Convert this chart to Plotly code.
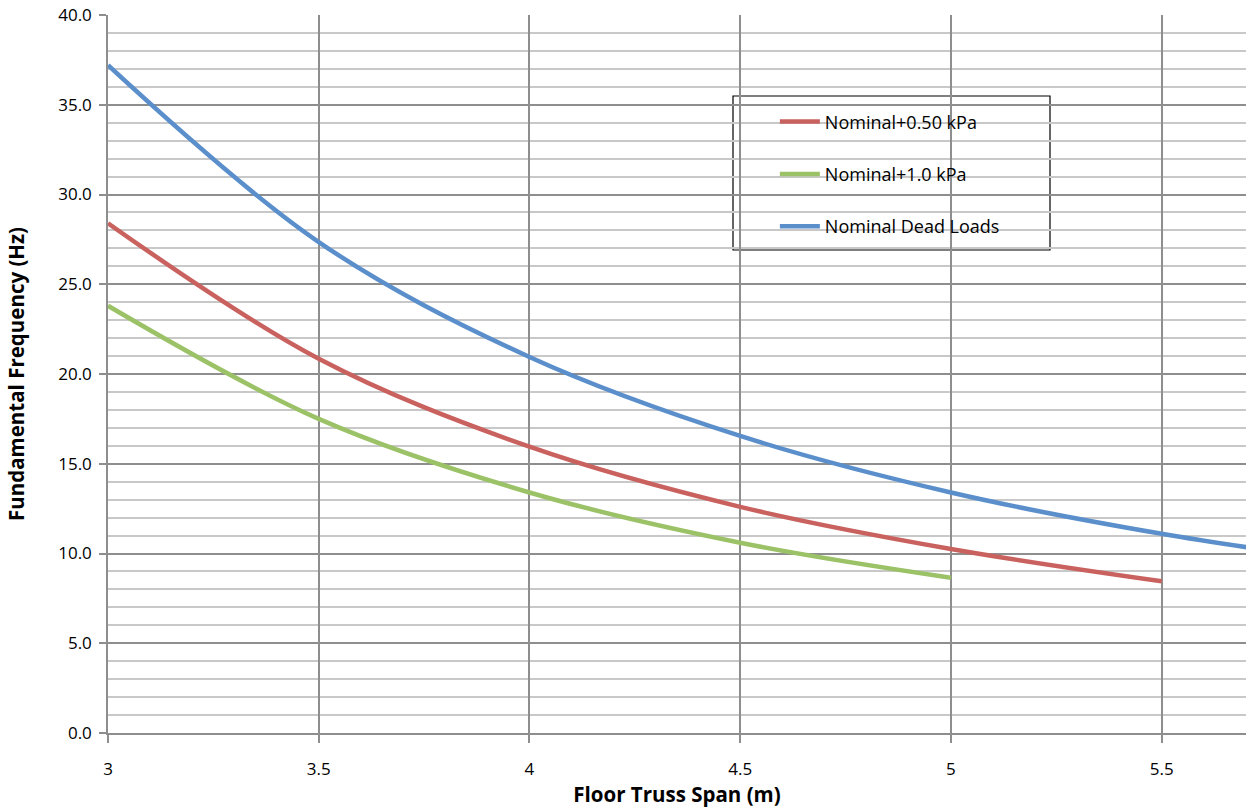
import plotly.graph_objects as go

span_red = [3.0, 3.5, 4.0, 4.5, 5.0, 5.5]
freq_red = [28.4, 20.85, 15.95, 12.6, 10.25, 8.45]

span_green = [3.0, 3.5, 4.0, 4.5, 5.0]
freq_green = [23.8, 17.5, 13.4, 10.6, 8.65]

span_blue = [3.0, 3.5, 4.0, 4.5, 5.0, 5.5, 6.0]
freq_blue = [37.2, 27.35, 20.95, 16.55, 13.4, 11.1, 9.35]

names = ["Nominal+0.50 kPa", "Nominal+1.0 kPa", "Nominal Dead Loads"]
colors = ["#C9625F", "#9BC267", "#5B8FCB"]

FONT = "Open Sans"

fig = go.Figure()
for i, (xs, ys) in enumerate([(span_red, freq_red), (span_green, freq_green), (span_blue, freq_blue)]):
    fig.add_trace(go.Scatter(
        x=xs, y=ys, mode="lines", name=names[i],
        line=dict(color=colors[i], width=4.5, shape="spline", smoothing=1.0),
        legendgroup=f"g{i}",
    ))

fig.update_layout(
    width=1248, height=808,
    margin=dict(l=108, r=2, t=15, b=75, autoexpand=False),
    plot_bgcolor="white", paper_bgcolor="white",
    font=dict(family=FONT, size=17, color="#000000"),
    showlegend=True,
    legend=dict(
        x=0.586, y=0.877, xanchor="left", yanchor="top",
        bgcolor="rgba(0,0,0,0)", borderwidth=0,
        tracegroupgap=26, font=dict(size=18, family=FONT),
        itemwidth=40,
    ),
    shapes=[dict(
        type="rect", xref="paper", yref="paper",
        x0=(733 - 108) / 1138, x1=(1050 - 108) / 1138,
        y0=(733 - 250) / 718, y1=(733 - 96) / 718,
        line=dict(color="black", width=1.2), fillcolor="white", layer="between",
    )],
    xaxis=dict(
        range=[3, 5.7], dtick=0.5, tick0=3,
        showgrid=True, gridcolor="#8e8e8e", gridwidth=1.5,
        showline=True, linecolor="#8e8e8e", linewidth=1.5,
        ticks="outside", ticklen=8, tickcolor="#8e8e8e", tickwidth=1.5,
        ticklabelstandoff=12, automargin=False,
        zeroline=False,
        title=dict(text="<b>Floor Truss Span (m)</b>", font=dict(size=20.5, family=FONT), standoff=0),
    ),
    yaxis=dict(
        range=[0, 40], dtick=5, tick0=0, tickformat=".1f",
        showgrid=True, gridcolor="#8e8e8e", gridwidth=1.5,
        minor=dict(dtick=1, showgrid=True, gridcolor="#c8c8c8", gridwidth=1.5),
        showline=True, linecolor="#8e8e8e", linewidth=1.5,
        ticks="outside", ticklen=7, tickcolor="#8e8e8e", tickwidth=1.5,
        ticklabelstandoff=4, ticklabeloverflow="allow", automargin=False,
        zeroline=False,
        title=dict(text="<b>Fundamental Frequency (Hz)</b>", font=dict(size=20.5, family=FONT), standoff=28),
    ),
)

fig.write_html("out.html", config={"displayModeBar": False},
               post_script="document.body.style.margin='0';")
